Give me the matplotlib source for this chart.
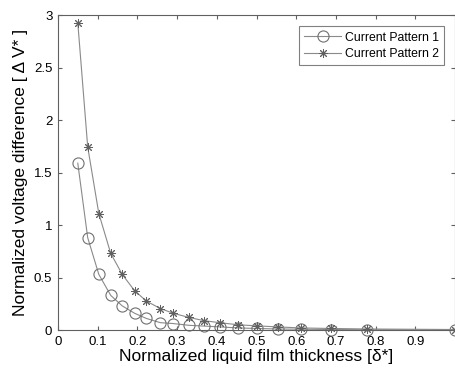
import numpy as np
import matplotlib.pyplot as plt

plt.rcParams['font.family'] = ['Liberation Sans', 'DejaVu Sans']

# film thickness samples
delta = [0.05, 0.075, 0.103, 0.133, 0.162, 0.193, 0.223, 0.258, 0.29, 0.33,
         0.367, 0.407, 0.454, 0.5, 0.553, 0.611, 0.687, 0.779, 0.999]

# voltage difference, pattern 1 and 2
dv1 = [1.59, 0.88, 0.53, 0.33, 0.23, 0.16, 0.11, 0.07, 0.062, 0.045,
       0.038, 0.03, 0.02, 0.015, 0.01, 0.008, 0.005, 0.003, 0.0]
dv2 = [2.93, 1.745, 1.11, 0.73, 0.53, 0.375, 0.275, 0.205, 0.16, 0.12,
       0.09, 0.07, 0.05, 0.04, 0.03, 0.02, 0.015, 0.01, 0.005]

fig = plt.figure(figsize=(4.56, 3.70), dpi=100)
ax = fig.add_axes([0.127, 0.108, 0.871, 0.851])

ax.plot(delta, dv1, color='#8a8a8a', lw=0.8, marker='o', ms=8,
        mfc='none', mec='#707070', mew=0.8, label='Current Pattern 1', clip_on=False)
ax.plot(delta, dv2, color='#8a8a8a', lw=0.8, marker=(8, 2, 0), ms=6.5,
        mec='#606060', mew=0.7, label='Current Pattern 2', clip_on=False)

ax.set_xlim(0, 1)
ax.set_ylim(0, 3)
ax.set_xticks(np.arange(0, 1.0, 0.1))
ax.set_xticklabels(['0', '0.1', '0.2', '0.3', '0.4', '0.5', '0.6', '0.7', '0.8', '0.9'])
ax.set_yticks([0, 0.5, 1, 1.5, 2, 2.5, 3])
ax.set_yticklabels(['0', '0.5', '1', '1.5', '2', '2.5', '3'])
ax.tick_params(direction='in', top=True, right=True, labelsize=9.5, length=3,
               color='#606060', pad=4)
for s in ax.spines.values():
    s.set_color('#606060')
    s.set_linewidth(0.8)

ax.set_xlabel('Normalized liquid film thickness [δ*]', fontsize=12.5, labelpad=1)
ax.set_ylabel('Normalized voltage difference [ Δ V* ]', fontsize=12.5, labelpad=4)

leg = ax.legend(loc='upper right', fontsize=8.8, frameon=True, fancybox=False,
                edgecolor='#606060', borderaxespad=0.9, handlelength=3.0,
                handletextpad=0.3, labelspacing=0.35, borderpad=0.45)
leg.get_frame().set_linewidth(0.8)

fig.savefig('out.png', dpi=100)
